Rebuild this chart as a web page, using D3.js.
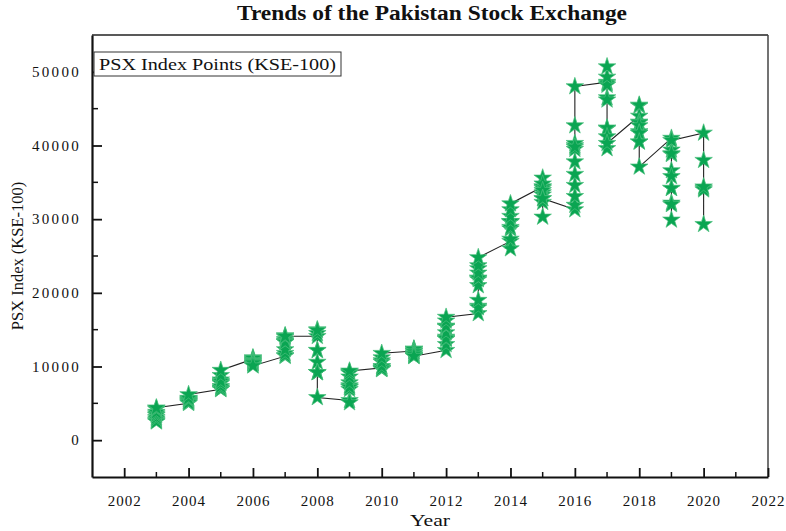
<!DOCTYPE html>
<html>
<head>
<meta charset="utf-8">
<script src="https://cdn.jsdelivr.net/npm/d3@7"></script>
<style>
  body { margin: 0; background: #fff; }
  text { font-family: "Liberation Serif", "DejaVu Serif", serif; fill: #111; }
</style>
</head>
<body>
<div id="chart"></div>
<script>
// years on the x axis, one row of monthly closes per year
var years = [2003, 2004, 2005, 2006, 2007, 2008, 2009, 2010, 2011,
             2012, 2013, 2014, 2015, 2016, 2017, 2018, 2019, 2020];
var monthlyIndex = [
  [2700, 2600, 2500, 2900, 3100, 3400, 3400, 3600, 3800, 4200, 4300, 4400],
  [5000, 5300, 5600, 5400, 5100, 5300, 5300, 5100, 5500, 5600, 5700, 6200],
  [6900, 7900, 7100, 6900, 7100, 7300, 7800, 7700, 8200, 8000, 8800, 9500],
  [11000, 10900, 11200, 11100, 10400, 10200, 10400, 10800, 10700, 10600, 10500, 10100],
  [11400, 11500, 11800, 12300, 13300, 13700, 13500, 13400, 13300, 14000, 14200, 14100],
  [14100, 14500, 15000, 14900, 12200, 12200, 10600, 9200, 9200, 9200, 9200, 5800],
  [5400, 5100, 6900, 7400, 7200, 7200, 7800, 8600, 9200, 9300, 9100, 9400],
  [9800, 9700, 10000, 10800, 9700, 9600, 9800, 9700, 10000, 10600, 11200, 11800],
  [12100, 11500, 11800, 12100, 12300, 12400, 12300, 11500, 11400, 12000, 11700, 11400],
  [12200, 13000, 13800, 14000, 13700, 13800, 14600, 15400, 15400, 15500, 16200, 16700],
  [17200, 18200, 18000, 19000, 21800, 21000, 23300, 22000, 22000, 22700, 23700, 24800],
  [27000, 26000, 27300, 28700, 29600, 29700, 29700, 28900, 29700, 30400, 31300, 32100],
  [34400, 33600, 30300, 34200, 33300, 34400, 35600, 34800, 32300, 33900, 32800, 32800],
  [31300, 31900, 33100, 34600, 36100, 37800, 39500, 40000, 40300, 39800, 42700, 48000],
  [48600, 48400, 48200, 49300, 50700, 46500, 46200, 42300, 42400, 41200, 39600, 40300],
  [44000, 43200, 45400, 45500, 43100, 41900, 42700, 41700, 40500, 41700, 40500, 37100],
  [41000, 39400, 38800, 36600, 35800, 34200, 32200, 29900, 32000, 34200, 38900, 40700],
  [41700, 38000, 29300, 34200, 34000, 34400]
];
var yTickValues = [0, 10000, 20000, 30000, 40000, 50000];
var xTickValues = [2002, 2004, 2006, 2008, 2010, 2012, 2014, 2016, 2018, 2020, 2022];

var width = 786, height = 531;
var margin = {top: 35, right: 18, bottom: 54, left: 92};
var plotW = width - margin.left - margin.right;
var plotH = height - margin.top - margin.bottom;

// flatten into one series in time order
var points = [];
years.forEach(function(yr, i) {
  monthlyIndex[i].forEach(function(v) { points.push({year: yr, value: v}); });
});

var x = d3.scaleLinear().domain([2001, 2022]).range([0, plotW]);
var y = d3.scaleLinear().domain([-5000, 55000]).range([plotH, 0]);

var svg = d3.select("#chart").append("svg")
  .attr("width", width).attr("height", height);

var g = svg.append("g")
  .attr("transform", "translate(" + margin.left + "," + margin.top + ")");

// frame (top / right)
g.append("line").attr("x1", 0).attr("x2", plotW).attr("y1", 0).attr("y2", 0)
  .attr("stroke", "#222").attr("stroke-width", 1.5);
g.append("line").attr("x1", plotW).attr("x2", plotW).attr("y1", 0).attr("y2", plotH)
  .attr("stroke", "#444").attr("stroke-width", 1.5);

// minor ticks first, inward
var xMinor = d3.range(2003, 2022, 2);
g.selectAll(".xminor").data(xMinor).enter().append("line")
  .attr("x1", function(d) { return x(d); }).attr("x2", function(d) { return x(d); })
  .attr("y1", plotH).attr("y2", plotH - 5)
  .attr("stroke", "#111").attr("stroke-width", 1.5);
var yMinor = d3.range(-5000, 55001, 10000).filter(function(d) { return d > -5000 && d < 55000; });
g.selectAll(".yminor").data(yMinor).enter().append("line")
  .attr("x1", 0).attr("x2", 6)
  .attr("y1", function(d) { return y(d); }).attr("y2", function(d) { return y(d); })
  .attr("stroke", "#111").attr("stroke-width", 1.5);

var xAxis = g.append("g")
  .attr("transform", "translate(0," + plotH + ")")
  .call(d3.axisBottom(x).tickValues(xTickValues).tickFormat(d3.format("d"))
        .tickSizeInner(-9).tickSizeOuter(0).tickPadding(18));
var yAxis = g.append("g")
  .call(d3.axisLeft(y).tickValues(yTickValues).tickFormat(d3.format("d"))
        .tickSizeInner(-10).tickSizeOuter(0).tickPadding(11));

[xAxis, yAxis].forEach(function(ax) {
  ax.select(".domain").attr("stroke", "#111").attr("stroke-width", 2.2);
  ax.selectAll(".tick line").attr("stroke", "#111").attr("stroke-width", 1.8);
  ax.selectAll(".tick text").style("font-family", "Liberation Serif, serif")
    .style("font-size", "15px").attr("fill", "#222");
});
xAxis.selectAll(".tick text").style("letter-spacing", "1px");
yAxis.selectAll(".tick text").style("letter-spacing", "2.3px");

// connecting line
var line = d3.line()
  .x(function(d) { return x(d.year); })
  .y(function(d) { return y(d.value); });
g.append("path").datum(points)
  .attr("d", line).attr("fill", "none")
  .attr("stroke", "#222").attr("stroke-width", 1.1);

// star markers
var star = d3.symbol().type(d3.symbolStar).size(95);
g.selectAll(".pt").data(points).enter().append("path")
  .attr("class", "pt")
  .attr("d", star)
  .attr("transform", function(d) { return "translate(" + x(d.year) + "," + y(d.value) + ")"; })
  .attr("fill", "#0aa552")
  .attr("stroke", "#4cc07e")
  .attr("stroke-width", 0.7);

// legend box
var leg = g.append("g").attr("transform", "translate(2,17)");
leg.append("rect").attr("width", 247).attr("height", 24)
  .attr("fill", "#fff").attr("stroke", "#333").attr("stroke-width", 1);
leg.append("text").attr("x", 5).attr("y", 18)
  .attr("textLength", 237).attr("lengthAdjust", "spacingAndGlyphs")
  .style("font-size", "17.5px").text("PSX Index Points (KSE-100)");

// titles
svg.append("text")
  .attr("x", margin.left + plotW / 2 + 2).attr("y", 20)
  .attr("text-anchor", "middle")
  .attr("textLength", 390).attr("lengthAdjust", "spacingAndGlyphs")
  .style("font-size", "20px").style("font-weight", "bold")
  .text("Trends of the Pakistan Stock Exchange");

svg.append("text")
  .attr("x", margin.left + plotW / 2).attr("y", 526)
  .attr("text-anchor", "middle")
  .attr("textLength", 40).attr("lengthAdjust", "spacingAndGlyphs")
  .style("font-size", "17.5px")
  .text("Year");

svg.append("text")
  .attr("transform", "translate(23," + (margin.top + plotH / 2) + ") rotate(-90)")
  .attr("text-anchor", "middle")
  .style("font-size", "16.5px")
  .text("PSX Index (KSE-100)");
</script>
</body>
</html>
